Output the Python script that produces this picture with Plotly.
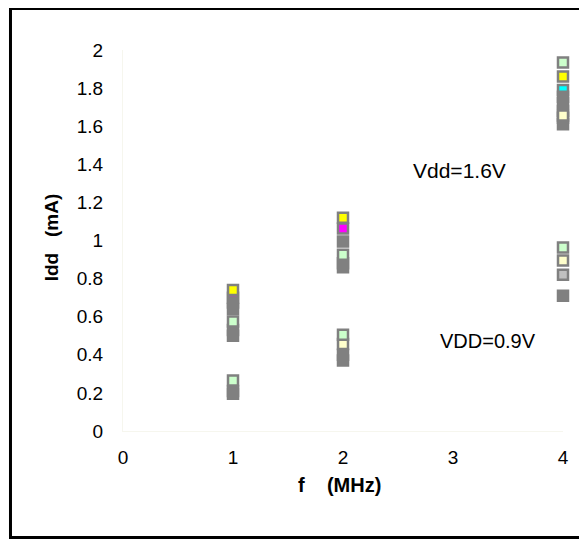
import plotly.graph_objects as go

# ---- data ----
x_ticks = [0, 1, 2, 3, 4]
y_ticks = [0, 0.2, 0.4, 0.6, 0.8, 1, 1.2, 1.4, 1.6, 1.8, 2]
y_tick_text = ["0", "0.2", "0.4", "0.6", "0.8", "1", "1.2", "1.4", "1.6", "1.8", "2"]

cyan_f = [4]
cyan_idd = [1.79]

magenta_f = [1, 2]
magenta_idd = [0.70, 1.063]

gray_f = [1, 1, 1, 1, 1, 1, 2, 2, 2, 2, 2, 4, 4, 4, 4, 4, 4]
gray_idd = [0.675, 0.64, 0.53, 0.50, 0.21, 0.195,
            0.995, 0.86, 0.88, 0.40, 0.37,
            1.755, 1.72, 1.68, 1.645, 1.61, 0.71]

lightgray_f = [4]
lightgray_idd = [0.82]

cream_f = [2, 4, 4]
cream_idd = [0.457, 1.656, 0.895]

green_f = [1, 1, 2, 2, 4, 4]
green_idd = [0.575, 0.265, 0.925, 0.505, 1.934, 0.963]

yellow_f = [1, 2, 4]
yellow_idd = [0.74, 1.12, 1.861]

series = [
    ("cyan", cyan_f, cyan_idd, "#00ffff"),
    ("magenta", magenta_f, magenta_idd, "#ff00ff"),
    ("gray", gray_f, gray_idd, "#808080"),
    ("lightgray", lightgray_f, lightgray_idd, "#c0c0c0"),
    ("cream", cream_f, cream_idd, "#ffffcc"),
    ("green", green_f, green_idd, "#ccffcc"),
    ("yellow", yellow_f, yellow_idd, "#ffff00"),
]

FONT = "Liberation Sans, Arial, sans-serif"

fig = go.Figure()
for name, xs, ys, col in series:
    fig.add_trace(go.Scatter(
        x=xs, y=ys, mode="markers", name=name, cliponaxis=False,
        marker=dict(symbol="square", size=10, color=col,
                    line=dict(color="#808080", width=2.5)),
        showlegend=False,
    ))

fig.update_layout(
    width=579, height=531,
    margin=dict(l=115, r=24, t=42, b=108),
    paper_bgcolor="white", plot_bgcolor="white",
    font=dict(family=FONT, size=19, color="black"),
    xaxis=dict(range=[0, 4], tickvals=x_ticks, showgrid=False, zeroline=False,
               showline=True, linecolor="#f6f6ee", linewidth=1,
               ticklabelstandoff=9, tickfont=dict(size=19)),
    yaxis=dict(range=[0, 2], tickvals=y_ticks, ticktext=y_tick_text,
               showgrid=False, zeroline=False,
               showline=True, linecolor="#f6f6ee", linewidth=1,
               ticklabelstandoff=15, tickfont=dict(size=19)),
    shapes=[dict(type="rect", xref="paper", yref="paper",
                 x0=-0.2557, x1=1.4, y0=-0.2795, y1=1.109,
                 line=dict(color="black", width=3), fillcolor="rgba(0,0,0,0)")],
    annotations=[
        dict(x=3.06, y=1.37, xref="x", yref="y", text="Vdd=1.6V", showarrow=False,
             xanchor="center", yanchor="middle", font=dict(size=21)),
        dict(x=3.32, y=0.47, xref="x", yref="y", text="VDD=0.9V", showarrow=False,
             xanchor="center", yanchor="middle", font=dict(size=20)),
        dict(x=0.493, y=-0.142, xref="paper", yref="paper",
             text="<b>f\u00a0\u00a0\u00a0\u00a0(MHz)</b>", showarrow=False,
             xanchor="center", yanchor="middle", font=dict(size=20)),
        dict(x=-0.163, y=0.509, xref="paper", yref="paper",
             text="<b>Idd\u00a0\u00a0\u00a0(mA)</b>", showarrow=False, textangle=-90,
             xanchor="center", yanchor="middle", font=dict(size=19)),
    ],
)

fig.write_html("out.html")
